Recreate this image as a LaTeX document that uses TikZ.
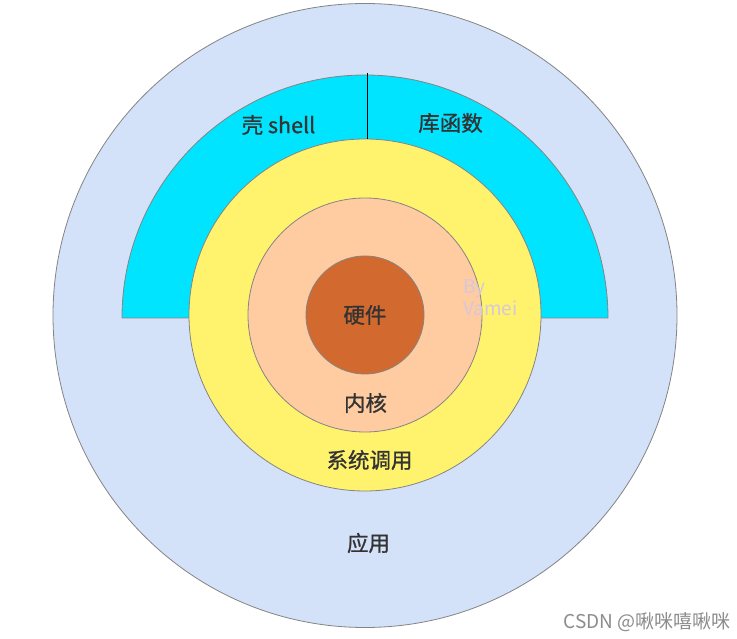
\documentclass[tikz,border=0pt]{standalone}
\usepackage{fontspec}
\setmainfont{Noto Sans CJK SC}
\newfontfamily\labelfont{Noto Sans CJK SC}[FakeBold=0.9]
\usetikzlibrary{positioning}
\definecolor{appblue}{HTML}{D3E2F8}
\definecolor{shellcyan}{HTML}{00E4FF}
\definecolor{callyellow}{HTML}{FFF36E}
\definecolor{kernelpeach}{HTML}{FFCBA0}
\definecolor{hwbrown}{HTML}{D2692F}
\definecolor{edgegray}{HTML}{848484}
\definecolor{textgray}{HTML}{333333}
\tikzset{
layer/.style={draw=edgegray, line width=0.8pt}, % rim of every ring
ring/.style={layer, circle, inner sep=0pt}, % round layer as a node
layertext/.style={text=textgray, inner sep=0pt, font=\labelfont\fontsize{21.5}{24}\selectfont},
}

\begin{document}
\begin{tikzpicture}[x=1pt, y=1pt]
    \useasboundingbox (0,0) rectangle (737,638);
    \fill[white] (0,0) rectangle (737,638);
    % outer ring and the half ring above the middle
    \node[ring, fill=appblue, minimum size=624pt] (app) at (365,322.5) {};
    \filldraw[layer, fill=shellcyan] (122,320) arc (180:0:243) -- cycle;
    \coordinate (split) at (367,565);
    \node[ring, fill=callyellow, minimum size=352pt] (calls) at (365,323) {};
    \node[ring, fill=kernelpeach, minimum size=234pt] (kernel) at (365,323) {};
    \node[ring, fill=hwbrown, minimum size=118pt] (hw) at (365,323) {};
    \draw[black, line width=0.8pt] (split) -- (calls.north -| split);
    % texts
    \node[layertext] (shelltext) at (278.5,513) {壳 shell};
    \node[layertext] (libtext) at (450.5,515) {库函数};
    \node[layertext] (hwtext) at (hw) {硬件};
    \node[layertext] (kerneltext) at (365.5,235) {内核};
    \node[layertext] (callstext) at (369.5,178) {系统调用};
    \node[layertext] (apptext) at (368.5,95) {应用};
    \node[text={rgb,255:red,214;green,200;blue,220}, font=\fontsize{19}{22}\selectfont,
          align=left, anchor=north west, inner sep=0pt] (mark) at (463,359) {By\\Vamei};
    \node[text={rgb,255:red,140;green,140;blue,140}, font=\fontsize{19}{22}\selectfont,
          anchor=east, inner sep=0pt] (csdn) at (731,16) {CSDN @啾咪嘻啾咪};
\end{tikzpicture}
\end{document}
